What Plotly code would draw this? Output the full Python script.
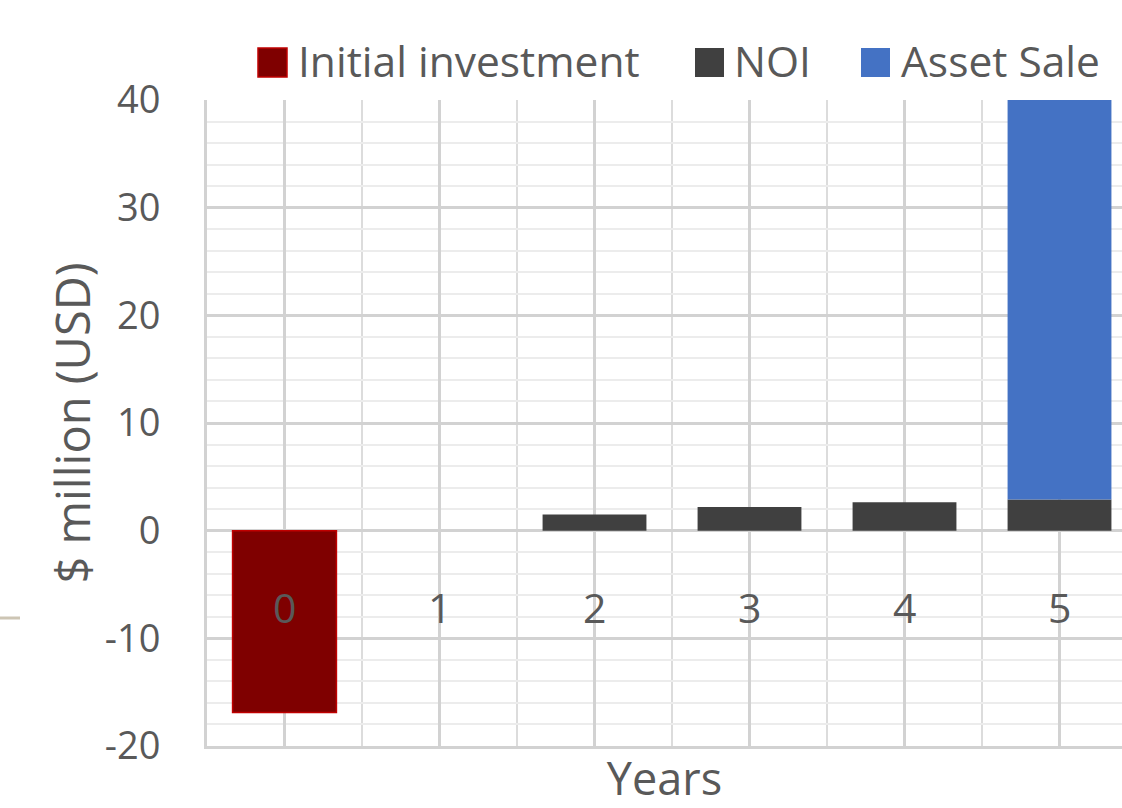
import plotly.graph_objects as go

# Cash flow profile of the property investment ($ million, USD)
years = [0, 1, 2, 3, 4, 5]
year_labels = ["0", "1", "2", "3", "4", "5"]
initial_investment = [-16.9, None, None, None, None, None]
noi = [None, None, 1.5, 2.2, 2.65, 2.9]
asset_sale = [None, None, None, None, None, 37.1]

y_tick_values = [-20, -10, 0, 10, 20, 30, 40]
y_tick_labels = ["-20", "-10", "0", "10", "20", "30", "40"]

series_names = ["Initial investment", "NOI", "Asset Sale"]
series_colors = ["#7f0000", "#404040", "#4472c4"]
series_lines = ["#c00000", "#404040", "#4472c4"]

W, H = 1122, 808
ML, MR, MT, MB = 207, 0, 100, 62
PW, PH = W - ML - MR, H - MT - MB

FONT = "Open Sans"
TXT = "#595959"
GRID_MAJOR = "#d2d2d2"
GRID_MINOR = "#ececec"


def px_x(px):
    return (px - ML) / PW


def px_y(py):
    return (H - MB - py) / PH


fig = go.Figure()
for name, vals, fill, line in zip(series_names,
                                  [initial_investment, noi, asset_sale],
                                  series_colors, series_lines):
    fig.add_trace(go.Bar(
        x=years, y=vals, name=name, width=0.67,
        marker=dict(color=fill, line=dict(color=line, width=1.5 if name == "Initial investment" else 0)),
        showlegend=False,
    ))

# category labels sit just below the zero line, inside the plot
annotations = []
for x, lab in zip(years, year_labels):
    annotations.append(dict(x=x, y=-7.1, xref="x", yref="y", text=lab, showarrow=False,
                            font=dict(family=FONT, size=41, color=TXT),
                            xanchor="center", yanchor="middle"))

# legend row across the top
shapes = []
legend_items = [
    (258, 300, 0),
    (695, 736, 1),
    (861, 903, 2),
]
for sq_x, txt_x, i in legend_items:
    shapes.append(dict(type="rect", xref="paper", yref="paper",
                       x0=px_x(sq_x), x1=px_x(sq_x + 29), y0=px_y(77), y1=px_y(48),
                       fillcolor=series_colors[i],
                       line=dict(color=series_lines[i], width=1.5 if i == 0 else 0)))
    annotations.append(dict(x=px_x(txt_x - 4), y=px_y(61), xref="paper", yref="paper",
                            text=series_names[i], showarrow=False,
                            font=dict(family=FONT, size=42.5, color=TXT),
                            xanchor="left", yanchor="middle"))

# small rule at the left edge
shapes.append(dict(type="line", xref="paper", yref="paper",
                   x0=px_x(0), x1=px_x(20), y0=px_y(618), y1=px_y(618),
                   line=dict(color="#cdc5b4", width=3)))

fig.update_layout(
    width=W, height=H,
    margin=dict(l=ML, r=MR, t=MT, b=MB),
    barmode="relative",
    paper_bgcolor="white", plot_bgcolor="white",
    font=dict(family=FONT, color=TXT),
    annotations=annotations,
    shapes=shapes,
)

fig.update_xaxes(
    range=[-0.5, -0.5 + PW / 155.0],
    tickmode="linear", tick0=0, dtick=1,
    showticklabels=False, ticks="",
    showgrid=True, gridcolor=GRID_MAJOR, gridwidth=3,
    minor=dict(tick0=0.5, dtick=1, showgrid=True, gridcolor="#dcdcdc", gridwidth=2),
    zeroline=False,
    showline=True, linecolor=GRID_MAJOR, linewidth=3,
    automargin=False,
    title=dict(text="Years", font=dict(family=FONT, size=45, color=TXT), standoff=24),
)

fig.update_yaxes(
    range=[-20, 40],
    tickmode="array", tickvals=y_tick_values, ticktext=y_tick_labels,
    tickfont=dict(family=FONT, size=38, color=TXT),
    ticks="", ticklabelstandoff=36,
    showgrid=True, gridcolor=GRID_MAJOR, gridwidth=3,
    minor=dict(tickmode="linear", tick0=0, dtick=2, showgrid=True, gridcolor=GRID_MINOR, gridwidth=2),
    zeroline=True, zerolinecolor=GRID_MAJOR, zerolinewidth=3,
    showline=True, linecolor=GRID_MAJOR, linewidth=3,
    automargin=False,
    title=dict(text="$ million (USD)", font=dict(family=FONT, size=47, color=TXT), standoff=0),
)

fig.write_html("out.html")
